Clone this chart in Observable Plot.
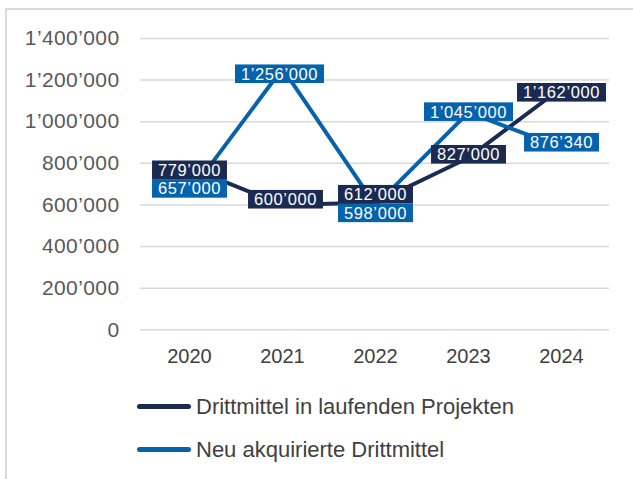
<!DOCTYPE html>
<html><head><meta charset="utf-8">
<script src="https://cdn.jsdelivr.net/npm/d3@7"></script>
<script src="https://cdn.jsdelivr.net/npm/@observablehq/plot@0.6"></script>
<style>
body{margin:0;background:#fff;font-family:"Liberation Sans",Arial,sans-serif;}
#wrap{position:relative;width:633px;height:479px;overflow:hidden;}
#frame{position:absolute;left:5px;top:8px;width:700px;height:600px;border:2px solid #d9d9d9;box-sizing:border-box;}
#chart{position:absolute;left:0;top:0;}
#legend{position:absolute;left:0;top:385px;width:633px;}
.row{display:flex;align-items:center;height:43px;padding-left:137px;}
.sw{display:inline-block;width:54px;height:5px;border-radius:3px;margin-right:5px;}
.lt{font-size:22px;color:#404040;}
</style>
</head><body>
<div id="wrap"><div id="frame"></div><div id="chart"></div><div id="legend"></div></div>
<script>
const years = ["2020","2021","2022","2023","2024"];
const laufend = [779000, 600000, 612000, 827000, 1162000];
const neu = [657000, 1256000, 598000, 1045000, 876340];
const seriesNames = ["Drittmittel in laufenden Projekten", "Neu akquirierte Drittmittel"];
const yTicks = [0, 200000, 400000, 600000, 800000, 1000000, 1200000, 1400000];

const colors = ["#1b2a50", "#0562ac"];
const labelDy = [[2.8, -5, -7.5, -2.7, 5], [-4, 6, 8.2, 0, -4.5]];
const labelDx = [[0, 3, 0, 0, 0], [0, -3, 0, 0, 0]];

const fmt = d3.formatLocale({decimal: ".", thousands: "\u2019", grouping: [3], currency: ["", ""]}).format(",d");
const seriesVals = [laufend, neu];
const data = [];
seriesVals.forEach((vals, k) => years.forEach((yr, i) => data.push({year: yr, value: vals[i], series: seriesNames[k], k, i})));

const labelMarks = data.map(d => Plot.text([d], {
  x: "year", y: "value", text: v => fmt(v.value), fill: "white", fontSize: 16.5,
  dx: labelDx[d.k][d.i], dy: labelDy[d.k][d.i]
}));

const plot = Plot.plot({
  width: 633, height: 380,
  marginLeft: 140, marginRight: 24, marginTop: 38, marginBottom: 50.7,
  style: {background: "transparent", fontFamily: "'Liberation Sans', Arial, sans-serif", overflow: "visible"},
  x: {type: "point", domain: years, padding: 0.5, label: null},
  y: {domain: [0, 1400000], label: null},
  color: {domain: seriesNames, range: colors},
  marks: [
    Plot.gridY(yTicks, {stroke: "#d9d9d9", strokeOpacity: 1, strokeWidth: 1.5}),
    Plot.axisY(yTicks, {tickSize: 0, tickPadding: 21, fontSize: 21, fill: "#595959", tickFormat: fmt, label: null}),
    Plot.axisX({tickSize: 0, tickPadding: 19, fontSize: 20, fill: "#404040", label: null}),
    Plot.line(data, {x: "year", y: "value", z: "series", stroke: "series", strokeWidth: 4}),
    ...labelMarks
  ]
});
document.getElementById("chart").appendChild(plot);

plot.querySelectorAll('g[aria-label="y-axis tick label"] text').forEach(t => t.style.letterSpacing = "0.4px");

// label background boxes (text groups appear in the same order as data)
const groups = plot.querySelectorAll('g[aria-label="text"]');
groups.forEach((g, j) => {
  const d = data[j];
  if (!d) return;
  g.querySelectorAll("text").forEach(t => {
    t.style.letterSpacing = "0.6px";
    const b = t.getBBox();
    const tr = t.getAttribute("transform");
    const r = document.createElementNS("http://www.w3.org/2000/svg", "rect");
    const cy = b.y + b.height / 2;
    r.setAttribute("x", b.x - 6);
    r.setAttribute("y", cy - 9.3);
    r.setAttribute("width", b.width + 12);
    r.setAttribute("height", 18.6);
    r.setAttribute("fill", colors[d.k]);
    if (tr) r.setAttribute("transform", tr);
    t.parentNode.insertBefore(r, t);
  });
});

const legend = document.getElementById("legend");
seriesNames.forEach((n, k) => {
  const row = document.createElement("div");
  row.className = "row";
  const sw = document.createElement("span");
  sw.className = "sw"; sw.style.background = colors[k];
  const tx = document.createElement("span");
  tx.className = "lt"; tx.textContent = n;
  row.appendChild(sw); row.appendChild(tx);
  legend.appendChild(row);
});
</script>
</body></html>
